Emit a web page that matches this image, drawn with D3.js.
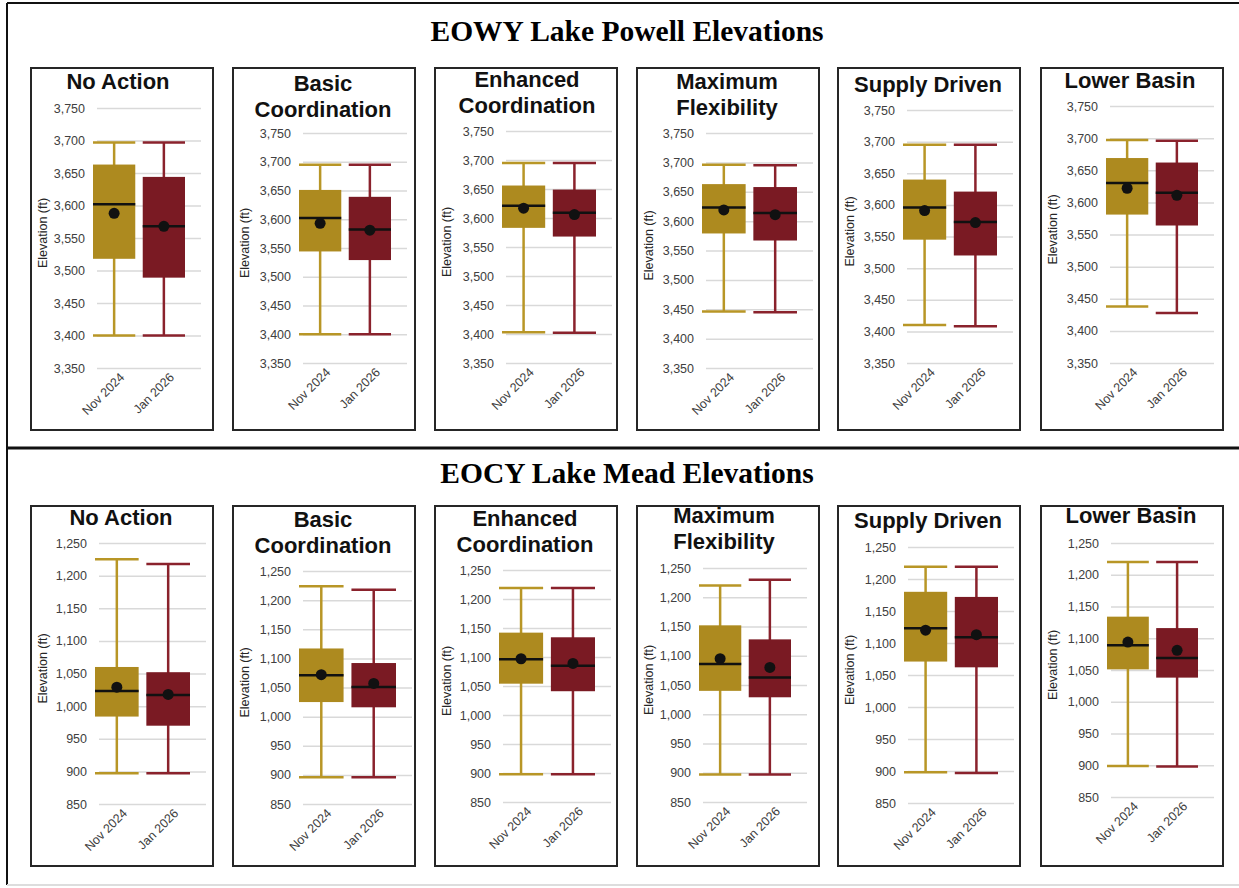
<!DOCTYPE html>
<html>
<head>
<meta charset="utf-8">
<script src="https://cdn.jsdelivr.net/npm/d3@7"></script>
<style>
  body { margin: 0; background: #fff; }
  svg { display: block; }
</style>
</head>
<body>
<svg></svg>
<script>
// scenario names and the two forecast dates
var scenarios = ["No Action", "Basic Coordination", "Enhanced Coordination", "Maximum Flexibility", "Supply Driven", "Lower Basin"];
var titleLines = [["No Action"], ["Basic", "Coordination"], ["Enhanced", "Coordination"], ["Maximum", "Flexibility"], ["Supply Driven"], ["Lower Basin"]];
var periods = ["Nov 2024", "Jan 2026"];

var powellTicks = [3350, 3400, 3450, 3500, 3550, 3600, 3650, 3700, 3750];
var meadTicks = [850, 900, 950, 1000, 1050, 1100, 1150, 1200, 1250];

// Lake Powell, end of water year (ft)
var powellNovMin  = [3400, 3400, 3403, 3446, 3410, 3438];
var powellNovQ1   = [3518, 3544, 3583, 3579, 3545, 3581];
var powellNovMed  = [3602, 3602, 3621, 3623, 3596, 3630];
var powellNovQ3   = [3663, 3651, 3656, 3663, 3640, 3669];
var powellNovMax  = [3697, 3695, 3695, 3696, 3695, 3697];
var powellNovMean = [3588, 3593, 3617, 3619, 3591, 3622];

var powellJanMin  = [3400, 3400, 3402, 3445, 3408, 3428];
var powellJanQ1   = [3489, 3529, 3568, 3567, 3520, 3564];
var powellJanMed  = [3568, 3582, 3609, 3614, 3573, 3615];
var powellJanQ3   = [3644, 3639, 3649, 3658, 3621, 3662];
var powellJanMax  = [3697, 3695, 3695, 3695, 3695, 3696];
var powellJanMean = [3568, 3581, 3606, 3611, 3572, 3611];

// Lake Mead, end of calendar year (ft)
var meadNovMin  = [897, 896, 898, 897, 898, 899];
var meadNovQ1   = [984, 1025, 1054, 1040, 1071, 1051];
var meadNovMed  = [1023, 1071, 1096, 1086, 1123, 1089];
var meadNovQ3   = [1060, 1117, 1142, 1152, 1180, 1134];
var meadNovMax  = [1225, 1224, 1219, 1220, 1219, 1220];
var meadNovMean = [1029, 1072, 1097, 1095, 1120, 1094];

var meadJanMin  = [897, 896, 898, 897, 897, 898];
var meadJanQ1   = [970, 1016, 1041, 1029, 1062, 1038];
var meadJanMed  = [1017, 1051, 1085, 1063, 1109, 1069];
var meadJanQ3   = [1052, 1092, 1134, 1128, 1172, 1116];
var meadJanMax  = [1218, 1218, 1219, 1230, 1219, 1220];
var meadJanMean = [1018, 1057, 1089, 1080, 1113, 1081];

var colors = {fill: ["#AD8A1F", "#7A1A23"], whisker: ["#B89626", "#8A222C"]};

// panel layout (each panel in the source was pasted separately, so they differ a bit)
var panelX = [31, 233, 435, 637, 838, 1041];
var panelW = 182;

var rows = [
  {
    title: "EOWY Lake Powell Elevations", titleY: 41, top: 68, bottom: 430, ticks: powellTicks,
    gx0: [97, 303, 506, 706, 907, 1110], gx1: [201, 407, 612, 813, 1013, 1214],
    yTop: [108, 133, 131, 133, 110, 106], yBot: [368, 363, 363, 368, 363, 363],
    tx: [118, 323, 527, 727, 928, 1130], ty: [89, 91, 87, 89, 92, 88],
    stats: [
      [powellNovMin, powellNovQ1, powellNovMed, powellNovQ3, powellNovMax, powellNovMean],
      [powellJanMin, powellJanQ1, powellJanMed, powellJanQ3, powellJanMax, powellJanMean]
    ]
  },
  {
    title: "EOCY Lake Mead Elevations", titleY: 483, top: 506, bottom: 866, ticks: meadTicks,
    gx0: [99, 303, 503, 703, 908, 1111], gx1: [206, 412, 611, 807, 1014, 1214],
    yTop: [543, 571, 570, 568, 547, 543], yBot: [804, 804, 802, 802, 803, 797],
    tx: [121, 323, 525, 724, 928, 1131], ty: [525, 527, 526, 523, 528, 523],
    stats: [
      [meadNovMin, meadNovQ1, meadNovMed, meadNovQ3, meadNovMax, meadNovMean],
      [meadJanMin, meadJanQ1, meadJanMed, meadJanQ3, meadJanMax, meadJanMean]
    ]
  }
];

var svg = d3.select("svg").attr("width", 1239).attr("height", 888);

// outer frame
svg.append("line").attr("x1", 7).attr("x2", 7).attr("y1", 3).attr("y2", 885).attr("stroke", "#111").attr("stroke-width", 2);
svg.append("line").attr("x1", 7).attr("x2", 1239).attr("y1", 3).attr("y2", 3).attr("stroke", "#111").attr("stroke-width", 2);
svg.append("line").attr("x1", 7).attr("x2", 1239).attr("y1", 448).attr("y2", 448).attr("stroke", "#111").attr("stroke-width", 3);
svg.append("line").attr("x1", 7).attr("x2", 1239).attr("y1", 885).attr("y2", 885).attr("stroke", "#ddd").attr("stroke-width", 2);

rows.forEach(function(row) {
  svg.append("text")
    .attr("x", 627).attr("y", row.titleY)
    .attr("text-anchor", "middle")
    .style("font-family", "'Liberation Serif', 'Times New Roman', serif")
    .style("font-weight", "bold").style("font-size", "29.5px")
    .text(row.title);

  scenarios.forEach(function(sc, i) {
    var g = svg.append("g");

    g.append("rect")
      .attr("x", panelX[i]).attr("y", row.top)
      .attr("width", panelW).attr("height", row.bottom - row.top)
      .attr("fill", "#fff").attr("stroke", "#262626").attr("stroke-width", 2);

    var y = d3.scaleLinear()
      .domain([row.ticks[0], row.ticks[row.ticks.length - 1]])
      .range([row.yBot[i], row.yTop[i]]);

    var x = d3.scaleBand()
      .domain(periods)
      .range([row.gx0[i] - 4, row.gx1[i] - 16])
      .paddingInner(0.15);

    // y axis: gridlines + labels
    var yAxis = d3.axisLeft(y)
      .tickValues(row.ticks)
      .tickSize(-(row.gx1[i] - row.gx0[i]))
      .tickPadding(12)
      .tickFormat(d3.format(","));

    var ax = g.append("g")
      .attr("transform", "translate(" + row.gx0[i] + ",0)")
      .call(yAxis);
    ax.select(".domain").remove();
    ax.selectAll(".tick line").attr("stroke", "#D9D9D9").attr("stroke-width", 1.5);
    ax.selectAll(".tick text")
      .attr("fill", "#404040")
      .style("font-family", "'Liberation Sans', Arial, sans-serif")
      .style("font-size", "12.5px");

    // x labels
    var xAxis = d3.axisBottom(x).tickSize(0).tickPadding(0);
    var xa = g.append("g")
      .attr("transform", "translate(0," + row.yBot[i] + ")")
      .call(xAxis);
    xa.select(".domain").remove();
    xa.selectAll(".tick text")
      .attr("fill", "#404040")
      .attr("text-anchor", "end")
      .attr("dy", 0).attr("y", 0)
      .attr("transform", "translate(11,10) rotate(-45)")
      .style("font-family", "'Liberation Sans', Arial, sans-serif")
      .style("font-size", "12.5px");

    // y title
    g.append("text")
      .attr("transform", "translate(" + (panelX[i] + 16) + "," + ((row.yTop[i] + row.yBot[i]) / 2 - 5) + ") rotate(-90)")
      .attr("text-anchor", "middle")
      .attr("fill", "#262626")
      .style("font-family", "'Liberation Sans', Arial, sans-serif")
      .style("font-size", "12.5px")
      .text("Elevation (ft)");

    // panel title
    titleLines[i].forEach(function(line, k) {
      g.append("text")
        .attr("x", row.tx[i]).attr("y", row.ty[i] + k * 26)
        .attr("text-anchor", "middle")
        .attr("fill", "#111")
        .style("font-family", "'Liberation Sans', Arial, sans-serif")
        .style("font-weight", "bold").style("font-size", "22px")
        .text(line);
    });

    // boxes
    var boxes = periods.map(function(p, j) {
      var s = row.stats[j];
      return {period: p, j: j, min: s[0][i], q1: s[1][i], med: s[2][i], q3: s[3][i], max: s[4][i], mean: s[5][i]};
    });

    var bw = x.bandwidth();
    var bx = g.selectAll(".box").data(boxes).enter().append("g").attr("class", "box");

    bx.append("line")
      .attr("x1", function(d) { return x(d.period) + bw / 2; })
      .attr("x2", function(d) { return x(d.period) + bw / 2; })
      .attr("y1", function(d) { return y(d.max); })
      .attr("y2", function(d) { return y(d.min); })
      .attr("stroke", function(d) { return colors.whisker[d.j]; })
      .attr("stroke-width", 2.5);

    ["min", "max"].forEach(function(k) {
      bx.append("line")
        .attr("x1", function(d) { return x(d.period); })
        .attr("x2", function(d) { return x(d.period) + bw; })
        .attr("y1", function(d) { return y(d[k]); })
        .attr("y2", function(d) { return y(d[k]); })
        .attr("stroke", function(d) { return colors.whisker[d.j]; })
        .attr("stroke-width", 2.5);
    });

    bx.append("rect")
      .attr("x", function(d) { return x(d.period); })
      .attr("width", bw)
      .attr("y", function(d) { return y(d.q3); })
      .attr("height", function(d) { return y(d.q1) - y(d.q3); })
      .attr("fill", function(d) { return colors.fill[d.j]; });

    bx.append("line")
      .attr("x1", function(d) { return x(d.period); })
      .attr("x2", function(d) { return x(d.period) + bw; })
      .attr("y1", function(d) { return y(d.med); })
      .attr("y2", function(d) { return y(d.med); })
      .attr("stroke", "#111").attr("stroke-width", 2.5);

    bx.append("circle")
      .attr("cx", function(d) { return x(d.period) + bw / 2; })
      .attr("cy", function(d) { return y(d.mean); })
      .attr("r", 5.5)
      .attr("fill", "#111");
  });
});
</script>
</body>
</html>
